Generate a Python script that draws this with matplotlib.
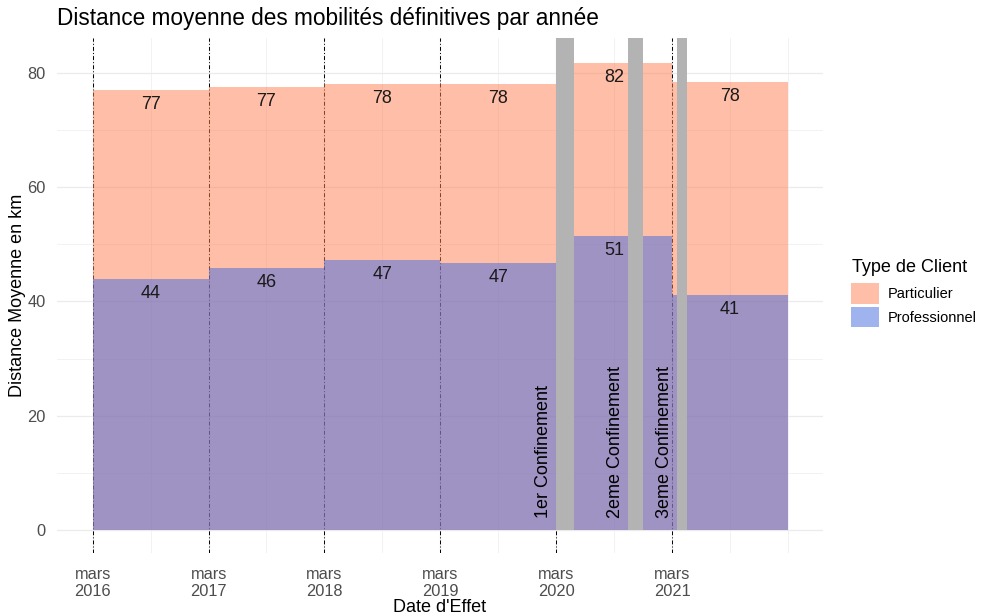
import datetime as dt

import matplotlib
matplotlib.use("Agg")
import matplotlib.pyplot as plt
from matplotlib.patches import Patch

plt.rcParams['font.family'] = ['Liberation Sans', 'DejaVu Sans']

# données : distance moyenne par année (17 mars -> 17 mars)
years = [2016, 2017, 2018, 2019, 2020, 2021]
particulier = [77.1, 77.6, 78.2, 78.2, 81.9, 78.4]
professionnel = [44.0, 45.9, 47.2, 46.8, 51.4, 41.1]
labels_part = ["77", "77", "78", "78", "82", "78"]
labels_pro = ["44", "46", "47", "47", "51", "41"]

confinements = ["1er Confinement", "2eme Confinement", "3eme Confinement"]
conf_debut = [dt.date(2020, 3, 17), dt.date(2020, 10, 30), dt.date(2021, 4, 3)]
conf_fin = [dt.date(2020, 5, 11), dt.date(2020, 12, 15), dt.date(2021, 5, 3)]

col_part = '#ff7f50'
col_pro = '#4169e1'

starts = [dt.date(y, 3, 17) for y in years]
edges = starts + [dt.date(years[-1] + 1, 3, 17)]
mids = [s + (e - s) / 2 for s, e in zip(edges[:-1], edges[1:])]

fig = plt.figure(figsize=(9.87, 6.16), dpi=100)
ax = fig.add_axes([57 / 987, 1 - 553 / 616, (823 - 57) / 987, (553 - 38) / 616])

# grille façon theme_minimal
for s in ax.spines.values():
    s.set_visible(False)
ax.set_axisbelow(True)
ax.grid(which='major', color='#ebebeb', lw=0.9)
ax.grid(which='minor', color='#ebebeb', lw=0.45)
ax.tick_params(which='both', length=0)

# lignes verticales en pointillés
for s in starts:
    ax.axvline(s, color='black', lw=0.7, ls=(0, (4, 2.2, 1, 2.2)), zorder=1)

# aires en escalier
ax.fill_between(edges, 0, particulier + particulier[-1:], step='post',
                color=col_part, alpha=0.5, lw=0, zorder=2)
ax.fill_between(edges, 0, professionnel + professionnel[-1:], step='post',
                color=col_pro, alpha=0.5, lw=0, zorder=3)

# confinements
for name, d0, d1 in zip(confinements, conf_debut, conf_fin):
    ax.fill_between([d0, d1], 0, 200, color='#b3b3b3', lw=0, zorder=4)
    ax.annotate(name, xy=(d0, 2), xytext=(-4, 0), textcoords='offset pixels',
                rotation=90, ha='right', va='bottom', fontsize=13, zorder=6)

# étiquettes des valeurs
for m, v, t in zip(mids, particulier, labels_part):
    ax.annotate(t, xy=(m, v), xytext=(0, -6), textcoords='offset pixels',
                ha='center', va='top', fontsize=13, color='#1a1a1a', zorder=5)
for m, v, t in zip(mids, professionnel, labels_pro):
    ax.annotate(t, xy=(m, v), xytext=(0, -6), textcoords='offset pixels',
                ha='center', va='top', fontsize=13, color='#1a1a1a', zorder=5)

ax.set_xlim(dt.date(2015, 11, 25), dt.date(2022, 7, 6))
ax.set_ylim(-4.1, 86.2)

ax.set_xticks(starts)
ax.set_xticklabels([f"mars\n{y}" for y in years], color='#4d4d4d', fontsize=11.8)
ax.set_xticks(mids + [edges[-1]], minor=True)
ax.set_yticks([0, 20, 40, 60, 80])
ax.set_yticks([10, 30, 50, 70], minor=True)
ax.tick_params(axis='y', labelsize=11.8, labelcolor='#4d4d4d', pad=8)
ax.tick_params(axis='x', pad=10)

ax.set_xlabel("Date d'Effet", fontsize=13, labelpad=0)
ax.set_ylabel("Distance Moyenne en km", fontsize=13, labelpad=1)
fig.text(57 / 987, 1 - 18 / 616, "Distance moyenne des mobilités définitives par année",
         fontsize=16.3, ha='left', va='center')

# légende
fig.text(852 / 987, 1 - 267 / 616, "Type de Client", fontsize=13, ha='left', va='center')
handles = [Patch(facecolor=col_part, alpha=0.5, lw=0),
           Patch(facecolor=col_pro, alpha=0.5, lw=0)]
fig.legend(handles, ["Particulier", "Professionnel"],
           loc='upper left', bbox_to_anchor=(851 / 987, 1 - 283 / 616),
           frameon=False, fontsize=10.5,
           handlelength=1.9, handleheight=1.8, labelspacing=0.2,
           handletextpad=0.6, borderpad=0, borderaxespad=0)

fig.savefig("out.png", dpi=100)
